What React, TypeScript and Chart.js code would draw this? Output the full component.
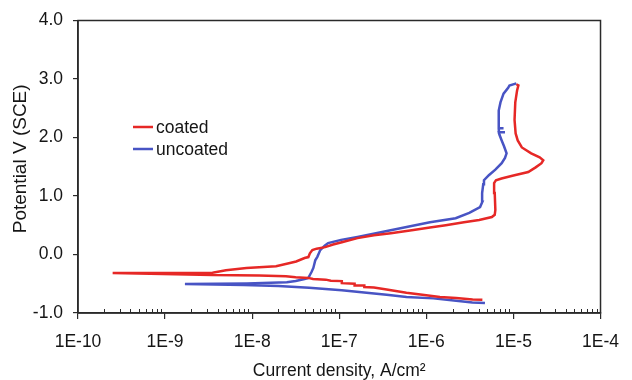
import React, { useEffect, useRef } from 'react';
import { Chart, registerables } from 'chart.js';

Chart.register(...registerables);

// ---- data (current density in A/cm², potential in V vs SCE) ----
const coatedPotential = [
  -0.775, -0.77, -0.745, -0.725, -0.69, -0.655, -0.6, -0.565, -0.555, -0.53, -0.53, -0.5, -0.49, -0.455,
  -0.45, -0.43, -0.42, -0.4, -0.39, -0.37, -0.36, -0.35, -0.315, -0.31, -0.27, -0.23, -0.2, -0.15, -0.12,
  -0.06, -0.044, 0.02, 0.075, 0.1, 0.126, 0.17, 0.21, 0.28, 0.33, 0.365, 0.42, 0.46, 0.5, 0.55, 0.59, 0.64,
  0.68, 0.76, 1.05, 1.22, 1.27, 1.3, 1.35, 1.41, 1.49, 1.56, 1.61, 1.66, 1.73, 1.83, 1.95, 2.07, 2.3, 2.6,
  2.8, 2.89, 2.91,
];
const coatedCurrent = [
  4.4e-6, 3.4e-6, 2.2e-6, 1.43e-6, 9.0e-7, 5.9e-7, 3.5e-7, 2.5e-7, 1.94e-7, 1.94e-7, 1.5e-7, 1.5e-7, 1.07e-7, 1.07e-7,
  8.0e-8, 7.0e-8, 5.0e-8, 4.4e-8, 3.16e-8, 2.44e-8, 1.2e-8, 3.5e-9, 2.5e-10, 3.5e-9, 5.0e-9, 8.6e-9, 1.88e-8, 2.64e-8, 3.2e-8,
  4.0e-8, 4.42e-8, 4.6e-8, 4.91e-8, 5.5e-8, 6.89e-8, 8.5e-8, 1.07e-7, 1.62e-7, 2.5e-7, 3.91e-7, 7.1e-7, 1.1e-6, 1.67e-6, 2.7e-6, 4.04e-6, 5.65e-6,
  6.1e-6, 6.2e-6, 6.1e-6, 6.0e-6, 6.3e-6, 7.3e-6, 1.0e-5, 1.48e-5, 1.8e-5, 2.1e-5, 2.2e-5, 2.0e-5, 1.6e-5, 1.25e-5, 1.12e-5, 1.06e-5, 1.03e-5, 1.05e-5,
  1.1e-5, 1.14e-5, 1.08e-5,
];
const uncoatedPotential = [
  -0.83, -0.82, -0.79, -0.75, -0.727, -0.69, -0.66, -0.61, -0.57, -0.54, -0.52, -0.505,
  -0.495, -0.475, -0.454, -0.42, -0.4, -0.35, -0.3, -0.23, -0.15, -0.1, -0.04, 0.075, 0.15, 0.195, 0.25, 0.3,
  0.38, 0.47, 0.55, 0.62, 0.71, 0.81, 0.9, 1.05, 1.2, 1.27, 1.355, 1.45, 1.56, 1.65, 1.73, 1.85, 1.95, 2.05,
  2.09, 2.09, 2.09, 2.16, 2.16, 2.16, 2.3, 2.46, 2.6, 2.75, 2.85, 2.89, 2.925,
];
const uncoatedCurrent = [
  4.71e-6, 3.37e-6, 2.2e-6, 1.2e-6, 5.93e-7, 3.5e-7, 2.2e-7, 1.07e-7, 4.5e-8, 2.0e-8, 8.0e-9, 1.69e-9,
  8.65e-9, 2.5e-8, 3.16e-8, 4.0e-8, 4.42e-8, 4.6e-8, 4.8e-8, 5.04e-8, 5.2e-8, 5.3e-8, 5.6e-8, 6.05e-8, 6.8e-8, 7.45e-8, 1.05e-7, 1.62e-7,
  3.0e-7, 5.93e-7, 1.1e-6, 2.17e-6, 3.11e-6, 4.14e-6, 4.4e-6, 4.37e-6, 4.5e-6, 4.59e-6, 5.22e-6, 6.2e-6, 7.33e-6, 8.0e-6, 8.34e-6, 7.8e-6, 7.33e-6, 6.9e-6,
  6.8e-6, 8.0e-6, 6.8e-6, 6.8e-6, 7.7e-6, 6.8e-6, 6.78e-6, 6.78e-6, 7.1e-6, 7.7e-6, 8.7e-6, 9.0e-6, 1.08e-5,
];
const seriesLabels = ['coated', 'uncoated'];
const xTickExponents = [-10, -9, -8, -7, -6, -5, -4];
const yTickValues = [-1, 0, 1, 2, 3, 4];

const FONT = '"Liberation Sans", Arial, Helvetica, sans-serif';
const TEXT = '#151515';
const AXIS = '#2a2a2a';
const RED = 'rgb(230, 40, 38)';
const BLUE = 'rgb(72, 84, 196)';

const framePlugin = {
  id: 'frameAndLegend',
  afterDraw(chart: any) {
    const { ctx, chartArea: a, scales } = chart;
    const xs = scales.x;
    ctx.save();
    // minor ticks (inside)
    ctx.strokeStyle = AXIS;
    ctx.lineWidth = 1;
    for (let e = xTickExponents[0]; e < xTickExponents[xTickExponents.length - 1]; e++) {
      for (let k = 2; k <= 9; k++) {
        const px = Math.round(xs.getPixelForValue(k * Math.pow(10, e))) + 0.5;
        ctx.beginPath();
        ctx.moveTo(px, a.bottom);
        ctx.lineTo(px, a.bottom - 4);
        ctx.stroke();
      }
    }
    // box
    ctx.lineWidth = 1.5;
    ctx.strokeStyle = AXIS;
    ctx.strokeRect(a.left, a.top, a.right - a.left, a.bottom - a.top);
    // legend
    const opts = chart.options.plugins.frameAndLegend;
    ctx.font = `17.5px ${FONT}`;
    ctx.textBaseline = 'middle';
    ctx.textAlign = 'left';
    chart.data.datasets.forEach((ds: any, i: number) => {
      const y = opts.y + i * opts.rowGap;
      ctx.strokeStyle = ds.borderColor;
      ctx.lineWidth = 2.5;
      ctx.beginPath();
      ctx.moveTo(opts.x, y);
      ctx.lineTo(opts.x + opts.lineLen, y);
      ctx.stroke();
      ctx.fillStyle = TEXT;
      ctx.fillText(ds.label, opts.x + opts.lineLen + 3, y + 1);
    });
    ctx.restore();
  },
};

export default function App() {
  const ref = useRef<HTMLCanvasElement>(null);
  useEffect(() => {
    if (!ref.current) return;
    const chart = new Chart(ref.current, {
      type: 'scatter',
      data: {
        datasets: [
          {
            label: seriesLabels[0],
            data: coatedCurrent.map((x, i) => ({ x, y: coatedPotential[i] })),
            showLine: true,
            borderColor: RED,
            backgroundColor: RED,
            borderWidth: 2.5,
            pointRadius: 0,
            tension: 0,
          },
          {
            label: seriesLabels[1],
            data: uncoatedCurrent.map((x, i) => ({ x, y: uncoatedPotential[i] })),
            showLine: true,
            borderColor: BLUE,
            backgroundColor: BLUE,
            borderWidth: 2.5,
            pointRadius: 0,
            tension: 0,
          },
        ],
      },
      options: {
        responsive: false,
        animation: false,
        layout: { padding: { left: 0, right: 21, top: 20, bottom: 0 } },
        plugins: {
          legend: { display: false },
          tooltip: { enabled: false },
          frameAndLegend: { x: 133, y: 127, rowGap: 22, lineLen: 20 },
        } as any,
        scales: {
          x: {
            type: 'logarithmic',
            position: 'bottom',
            min: Math.pow(10, xTickExponents[0]),
            max: Math.pow(10, xTickExponents[xTickExponents.length - 1]),
            afterBuildTicks: (s: any) => {
              s.ticks = xTickExponents.map((e) => ({ value: Math.pow(10, e) }));
            },
            afterFit: (s: any) => {
              s.height = 67;
            },
            ticks: {
              autoSkip: false,
              maxRotation: 0,
              minRotation: 0,
              padding: 13,
              color: TEXT,
              font: { family: FONT, size: 17.5 },
              callback: (v: any) => '1E' + Math.round(Math.log10(Number(v))),
            },
            grid: { drawOnChartArea: false, tickLength: 6, color: AXIS, lineWidth: 1.2 },
            border: { display: true, color: AXIS, width: 1.5 },
            title: {
              display: true,
              text: 'Current density, A/cm²',
              color: TEXT,
              font: { family: FONT, size: 17.5 },
              padding: { top: 0, bottom: -2 },
            },
          },
          y: {
            type: 'linear',
            min: yTickValues[0],
            max: yTickValues[yTickValues.length - 1],
            afterBuildTicks: (s: any) => {
              s.ticks = yTickValues.map((v) => ({ value: v }));
            },
            afterFit: (s: any) => {
              s.width = 78;
            },
            ticks: {
              padding: 10,
              color: TEXT,
              font: { family: FONT, size: 17.5 },
              callback: (v: any) => Number(v).toFixed(1),
            },
            grid: { drawOnChartArea: false, tickLength: 5, color: AXIS, lineWidth: 1.2 },
            border: { display: true, color: AXIS, width: 1.5 },
            title: {
              display: true,
              text: '   Potential V (SCE)',
              color: TEXT,
              font: { family: FONT, size: 19 },
              padding: { top: 9, bottom: 0 },
            },
          },
        },
      },
      plugins: [framePlugin],
    } as any);
    return () => chart.destroy();
  }, []);
  return (
    <div style={{ position: 'fixed', left: 0, top: 0, width: 632, height: 380, background: '#fff' }}>
      <canvas ref={ref} width={632} height={380} style={{ display: 'block' }} />
    </div>
  );
}
